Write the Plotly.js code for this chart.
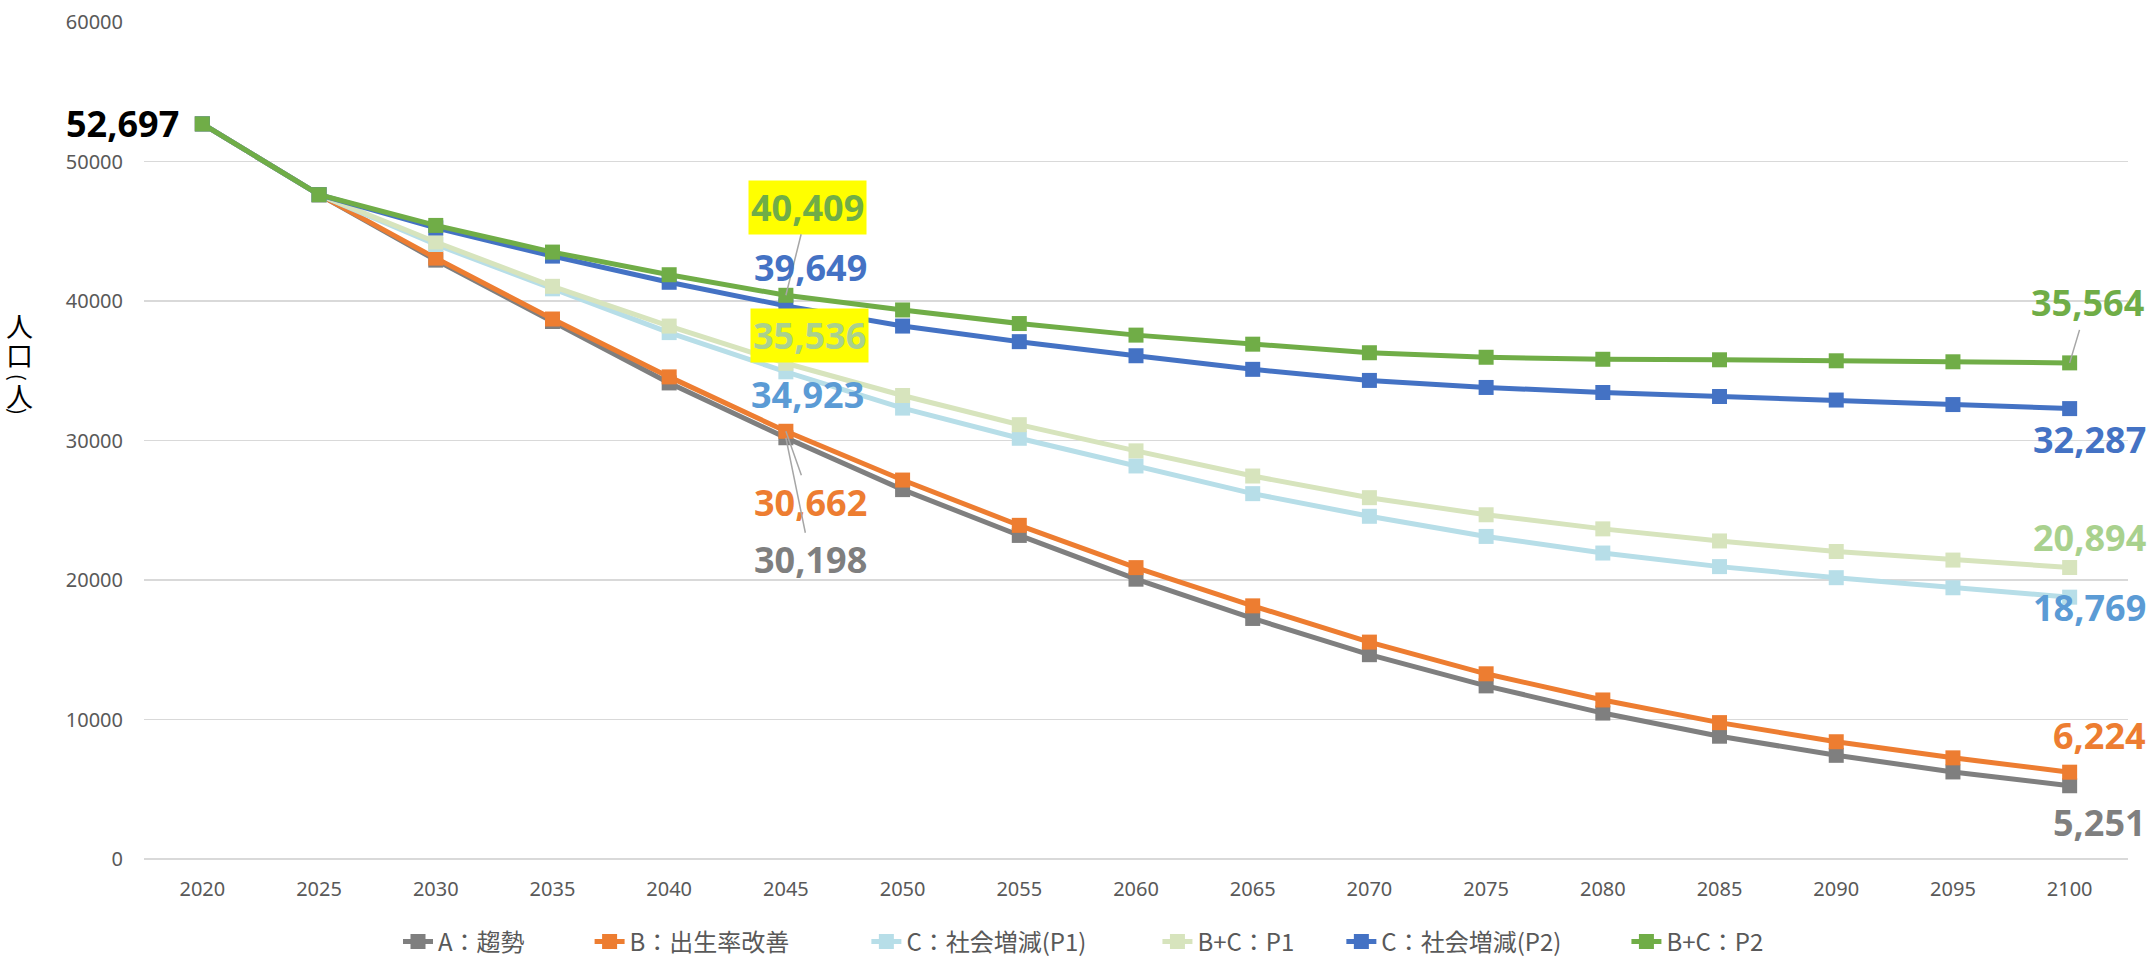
<!DOCTYPE html>
<html>
<head>
<meta charset="utf-8">
<script src="https://cdn.plot.ly/plotly-3.0.1.min.js"></script>
<style>html,body{margin:0;padding:0;background:#fff;}</style>
</head>
<body>
<div id="chart" style="width:2152px;height:958px;"></div>
<script>
const years = ['2020','2025','2030','2035','2040','2045','2050','2055','2060','2065','2070','2075','2080','2085','2090','2095','2100'];

const seriesNames = ['A：趨勢','B：出生率改善','C：社会増減(P1)','B+C：P1','C：社会増減(P2)','B+C：P2'];

const valsA   = [52697,47620,42930,38528,34127,30198,26479,23196,20058,17244,14646,12410,10462,8802,7432,6241,5251];
const valsB   = [52697,47620,43074,38709,34560,30662,27165,23918,20887,18146,15548,13276,11400,9776,8405,7251,6224];
const valsCP1 = [52697,47620,44048,40873,37734,34923,32323,30159,28175,26190,24567,23124,21933,20960,20166,19444,18769];
const valsBCP1= [52697,47620,44228,41053,38203,35536,33225,31133,29257,27453,25902,24675,23665,22799,22042,21429,20894];
const valsCP2 = [52697,47620,45238,43218,41342,39649,38203,37085,36075,35101,34307,33802,33442,33153,32900,32576,32287];
const valsBCP2= [52697,47620,45418,43506,41883,40409,39358,38384,37554,36905,36291,35967,35823,35786,35714,35642,35564];

const yTitleChars = ['人','口','(','人',')'];

const allVals = [valsA, valsB, valsCP1, valsBCP1, valsCP2, valsBCP2];
const lineColors = ['#7F7F7F','#ED7D31','#B7DEE8','#D7E4BD','#4472C4','#70AD47'];
const labelColors = ['#7F7F7F','#ED7D31','#5B9BD5','#A9D18E','#4472C4','#70AD47'];
// blank spacing after each legend entry (ideographic / en / quarter spaces)
const legendPad = ['\u3000\u3000\u2002','\u3000\u3000\u3000','\u3000\u3000\u2002\u2005','\u3000\u2002\u2005','\u3000\u3000\u2002',''];

const traces = allVals.map((v,i)=>({
  type:'scatter', mode:'lines+markers', name: seriesNames[i] + legendPad[i],
  x: years, y: v,
  line:{color: lineColors[i], width:5},
  marker:{symbol:'square', size:15, color: lineColors[i]},
  cliponaxis:false
}));

const fmt = n => n.toLocaleString('en-US');
const labelFont = (c)=>({family:'Noto Sans, DejaVu Sans, sans-serif', size:36, color:c, weight:700});

// [seriesIndex, pointIndex, style options]
const labelSpecs = [
  [0, 0, {showarrow:false, xanchor:'right', xshift:-20, yshift:0, color:'#000000'}],
  [5, 5, {showarrow:true, ax:22, ay:-88, bg:'#FFFF00'}],
  [4, 5, {showarrow:false, xshift:25, yshift:38}],
  [3, 5, {showarrow:false, xshift:24, yshift:28, bg:'#FFFF00'}],
  [2, 5, {showarrow:false, xshift:22, yshift:-23}],
  [1, 5, {showarrow:true, ax:25, ay:71}],
  [0, 5, {showarrow:true, ax:25, ay:122}],
  [5, 16, {showarrow:true, ax:18, ay:-60}],
  [4, 16, {showarrow:false, xshift:20, yshift:-31}],
  [3, 16, {showarrow:false, xshift:20, yshift:30}],
  [2, 16, {showarrow:false, xshift:20, yshift:-10}],
  [1, 16, {showarrow:false, xshift:30, yshift:37}],
  [0, 16, {showarrow:false, xshift:30, yshift:-37}]
];

const annotations = labelSpecs.map(([si, pi, o])=>{
  const a = {
    x: pi, y: allVals[si][pi], xref:'x', yref:'y',
    text: fmt(allVals[si][pi]),
    font: labelFont(o.color || labelColors[si]),
    showarrow: o.showarrow,
    borderpad: 2
  };
  if (o.bg) a.bgcolor = o.bg;
  if (o.showarrow) {
    a.ax = o.ax; a.ay = o.ay;
    a.arrowhead = 0; a.arrowwidth = 1.5; a.arrowcolor = '#A6A6A6'; a.standoff = 0;
  } else {
    a.xshift = o.xshift || 0; a.yshift = o.yshift || 0;
    if (o.xanchor) a.xanchor = o.xanchor;
  }
  return a;
});

// vertical y-axis title (upright characters)
const yTitlePos = [325, 354, 377, 396, 411];
yTitleChars.forEach((ch, i)=>{
  const rot = (ch==='(' || ch===')');
  annotations.push({
    xref:'paper', yref:'paper',
    x: (19-144)/1984, y: (859 - yTitlePos[i])/837,
    xanchor:'center', yanchor:'middle',
    text: ch, showarrow:false, textangle: rot ? 90 : 0,
    font:{family:'Noto Sans CJK JP, sans-serif', size: rot ? 20 : 27, color:'#000000'}
  });
});

const tickFont = {family:'Noto Sans, sans-serif', size:20, color:'#595959'};

const layout = {
  width:2152, height:958,
  margin:{l:144, r:24, t:22, b:99},
  paper_bgcolor:'#FFFFFF', plot_bgcolor:'#FFFFFF',
  showlegend:true,
  xaxis:{type:'category', range:[-0.5,16.5], showgrid:false, showline:false, zeroline:false,
         ticks:'', tickfont: tickFont, ticklabelstandoff: 16, fixedrange:true},
  yaxis:{range:[0,60000], dtick:10000, tick0:0, tickformat:'d', showgrid:true,
         gridcolor:'#D9D9D9', gridwidth:1.5, zeroline:true, zerolinecolor:'#D9D9D9', zerolinewidth:1.5,
         showline:false, ticks:'', tickfont: tickFont, ticklabelstandoff: 20, fixedrange:true},
  legend:{orientation:'h', xref:'container', yref:'container', x:398/2152, xanchor:'left',
          y:1-942/958, yanchor:'middle',
          font:{family:'Noto Sans CJK JP, sans-serif', size:24, color:'#595959'},
          itemwidth:30, bgcolor:'rgba(0,0,0,0)'},
  annotations: annotations
};

Plotly.newPlot('chart', traces, layout, {displayModeBar:false, staticPlot:true});
</script>
</body>
</html>
